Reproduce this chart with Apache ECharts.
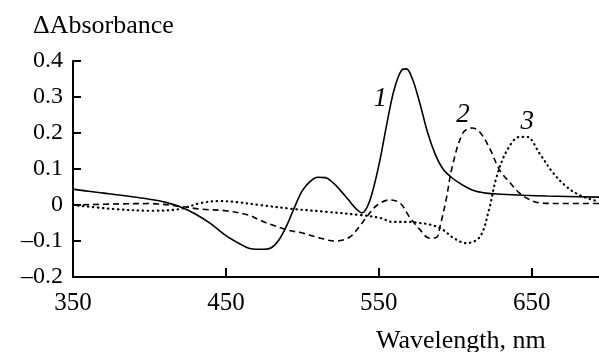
<!DOCTYPE html>
<html>
<head>
<meta charset="utf-8">
<script src="https://cdn.jsdelivr.net/npm/echarts@6/dist/echarts.min.js"></script>
<style>
  html, body {margin: 0; padding: 0; background: #fff;}
  #chart {width: 599px; height: 352px;}
</style>
</head>
<body>
<div id="chart"></div>
<script>
// curve 1 (solid)
const wl1 = [350, 360, 370, 380, 390, 400, 410, 420, 430, 440, 450, 460, 465, 470, 475, 480, 485, 490, 495, 500, 505, 510, 515, 520, 525, 530, 535, 539, 543, 547, 551, 555, 560, 565, 568, 572, 577, 582, 587, 592, 598, 605, 612, 620, 630, 645, 660, 694];
const abs1 = [0.044, 0.038, 0.033, 0.028, 0.022, 0.016, 0.008, -0.005, -0.025, -0.052, -0.085, -0.11, -0.12, -0.123, -0.123, -0.118, -0.095, -0.055, -0.005, 0.04, 0.065, 0.077, 0.076, 0.062, 0.04, 0.015, -0.01, -0.022, 0.0, 0.055, 0.13, 0.22, 0.32, 0.375, 0.378, 0.35, 0.28, 0.2, 0.14, 0.1, 0.075, 0.055, 0.04, 0.033, 0.03, 0.027, 0.025, 0.022];

// curve 2 (dashed)
const wl2 = [350, 380, 400, 420, 435, 450, 465, 472, 480, 490, 500, 510, 516, 522, 531, 538, 542, 549, 557, 564, 570, 577, 583, 588, 590, 594, 598, 605, 611, 616, 623, 629, 636, 642, 649, 655, 670, 694];
const abs2 = [0.0, 0.003, 0.004, -0.004, -0.012, -0.016, -0.028, -0.042, -0.055, -0.069, -0.078, -0.09, -0.097, -0.1, -0.089, -0.056, -0.033, 0.0, 0.014, 0.005, -0.033, -0.069, -0.092, -0.089, -0.06, 0.014, 0.106, 0.2, 0.214, 0.203, 0.153, 0.097, 0.061, 0.033, 0.014, 0.006, 0.004, 0.004];

// curve 3 (dotted)
const wl3 = [350, 376, 402, 420, 433, 446, 457, 472, 494, 516, 538, 551, 559, 570, 577, 585, 592, 598, 607, 616, 622, 627, 634, 642, 647, 655, 664, 673, 681, 690, 694];
const abs3 = [0.0, -0.011, -0.016, -0.011, 0.005, 0.011, 0.008, 0.0, -0.011, -0.019, -0.028, -0.036, -0.047, -0.047, -0.05, -0.056, -0.069, -0.089, -0.106, -0.089, -0.014, 0.078, 0.153, 0.189, 0.189, 0.144, 0.089, 0.05, 0.028, 0.014, 0.01];

const curveNames = ['1', '2', '3'];
const nameAt = [[551, 0.294], [605, 0.25], [647, 0.23]];
const xTicks = [350, 450, 550, 650];
const yTicks = [0.4, 0.3, 0.2, 0.1, 0, -0.1, -0.2];

const pairs = (xs, ys) => xs.map((x, i) => [x, ys[i]]);
const serif = 'Liberation Serif';

const chart = echarts.init(document.getElementById('chart'));

const lineStyles = [
  {color: '#000', width: 1.6, type: 'solid'},
  {color: '#000', width: 1.6, type: [6, 4]},
  {color: '#000', width: 2.2, type: [0.5, 4.5], cap: 'round'}
];

chart.setOption({
  animation: false,
  title: [
    {text: '\u0394Absorbance', left: 28, top: 8,
      textStyle: {fontFamily: serif, fontSize: 26, fontWeight: 'normal', color: '#000'}},
    {text: 'Wavelength, nm', left: 371, top: 323,
      textStyle: {fontFamily: serif, fontSize: 26, fontWeight: 'normal', color: '#000'}}
  ],
  grid: {left: 73, top: 61, width: 526, height: 216},
  xAxis: {
    type: 'value', min: 350, max: 694, interval: 100,
    axisLine: {onZero: false, lineStyle: {color: '#000', width: 2}},
    axisTick: {inside: true, length: 9, lineStyle: {color: '#000', width: 2}},
    axisLabel: {
      color: '#000', fontFamily: serif, fontSize: 25, margin: 14,
      showMaxLabel: false,
      formatter: v => xTicks.includes(v) ? String(v) : ''
    },
    splitLine: {show: false}
  },
  yAxis: {
    type: 'value', min: -0.2, max: 0.4, interval: 0.1,
    axisLine: {show: true, lineStyle: {color: '#000', width: 2}},
    axisTick: {show: true, inside: true, length: 8, lineStyle: {color: '#000', width: 2}},
    axisLabel: {
      color: '#000', fontFamily: serif, fontSize: 24, margin: 10,
      formatter: v => {
        const r = Math.round(v * 10) / 10;
        if (!yTicks.includes(r)) return '';
        if (r === 0) return '0';
        return (r < 0 ? '\u2013' : '') + Math.abs(r).toFixed(1);
      }
    },
    splitLine: {show: false}
  },
  series: [pairs(wl1, abs1), pairs(wl2, abs2), pairs(wl3, abs3)].map((d, i) => ({
    type: 'line',
    name: curveNames[i],
    data: d,
    smooth: 0.35,
    symbol: 'none',
    lineStyle: lineStyles[i],
    markPoint: {
      symbol: 'circle',
      symbolSize: 1,
      itemStyle: {color: 'rgba(0,0,0,0)'},
      data: [{coord: nameAt[i]}],
      label: {
        show: true, position: 'inside', formatter: curveNames[i], color: '#000',
        fontFamily: serif, fontStyle: 'italic', fontSize: 27
      }
    }
  }))
});
</script>
</body>
</html>
